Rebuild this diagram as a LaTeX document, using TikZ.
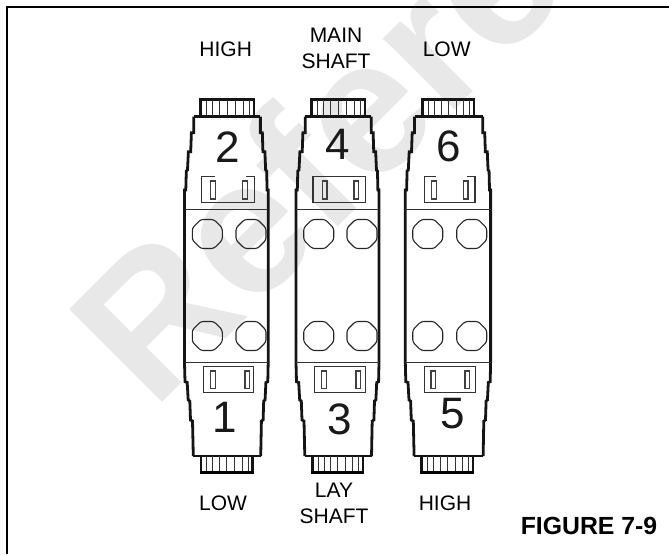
\documentclass[tikz,border=0pt]{standalone}
\usepackage{fontspec}
\setmainfont{Liberation Sans}
\begin{document}
\begin{tikzpicture}[x=1pt, y=-1pt, line join=miter,
    shell/.style={line width=2.8pt, draw=black!92},
    rib/.style={line width=1pt, draw=black!80},
    socket/.style={line width=1.2pt, draw=black!80},
    slot/.style={line width=1.2pt, draw=black!75},
    pin/.style={line width=1.1pt, draw=black!85, rounded corners=2.5pt},
    shaftlabel/.style={font=\fontsize{21}{26.5}\selectfont, align=center, inner sep=0pt},
    number/.style={font=\fontsize{44}{44}\selectfont, inner sep=0pt, text=black!90}]
  \useasboundingbox (0,0) rectangle (669,554);
  \begin{scope}
    \clip (0,0) rectangle (669,554);
    \node[font=\bfseries\fontsize{191}{191}\selectfont, text=black!9, rotate=45, anchor=base west, inner sep=0pt] (mark) at (153,412) {Reference};
  \end{scope}
  \draw[line width=2pt] (7,554) -- (7,7) -- (669,7);
  % stepped housing sides, both halves of each module
  \foreach \bl/\br in {184.5/268.2,296/379,405.3/490.6}
    \foreach \x/\f in {\bl/1,\br/-0.85} {
      \draw[shell, shift={(\x,0)}, xscale=\f] (9.2,116.7) -- (9.2,132.7) -- (6.9,132.7) -- (6.2,151.7) -- (3.9,151.7) -- (3,170) -- (1.8,171) -- (1.3,190) -- (0,190) -- (0,362.7) -- (0.5,381.7) -- (2.7,382.5) -- (3.7,400) -- (5.3,401) -- (6,420) -- (8,421) -- (8.8,456);
      \draw[rib] (\bl,209.5) -- (\br,209.5) (\bl,362) -- (\br,362);
    }
  \foreach \bl/\br in {184.5/268.2,296/379,405.3/490.6} {
    \draw[shell] ({\bl+9.2},116.7) -- ({\br-7.8},116.7);
    \draw[shell] ({\bl+8.8},456) -- ({\br-7.5},456);
  }
  % ribbed end caps
  \foreach \ya/\yb/\list in {99.5/116/{200.5/254,311.7/365,422.7/474},456/472/{201/252.3,312.7/363,421.7/473}}
    \foreach \ca/\cb in \list {
      \draw[shell] (\ca,\yb) -- (\ca,\ya) -- (\cb,\ya) -- (\cb,\yb);
      \foreach \r in {.11,.23,.36,.5,.65,.8,.92} \draw[rib] ({\ca+\r*(\cb-\ca)},\ya) -- ({\ca+\r*(\cb-\ca)},\yb);
    }
  \foreach \ca/\cb in {201/252.3,312.7/363,421.7/473} \draw[line width=3pt] (\ca-1.4,472) -- (\cb+1.4,472);
  % sockets with two pins
  \foreach \wa/\wb/\ga/\gb/\sa/\sb in {201.5/254.5/215/246/210.7/242.7,313/365.5/340/340/322.3/354,424.5/475/436/467.3/431.7/463.3} {
    \draw[socket] (\ga,176.5) -- (\wa,176.5) -- (\wa,202.2) -- (\wb,202.2) -- (\wb,176.5) -- (\gb,176.5);
    \draw[slot] (\sa,181) rectangle ++(4.6,18);
    \draw[slot] (\sb,181) rectangle ++(4.6,18);
  }
  \foreach \wa/\wb/\sa/\sb in {203.8/253.8/210.7/245,314.5/365.5/321.7/356,424.5/475.2/431/465} {
    \draw[socket] (\wa,366.5) rectangle (\wb,392.2);
    \draw[slot] (\sa,371) rectangle ++(4.6,17.3);
    \draw[slot] (\sb,371) rectangle ++(4.6,17.3);
  }
  \foreach \cx in {207.3,251,318.7,362,427.7,471.7}
    \foreach \cy in {234,336}
      \draw[pin] (\cx-6.5,\cy-14.5) -- (\cx+6.5,\cy-14.5) -- (\cx+15,\cy-6) -- (\cx+15,\cy+6) -- (\cx+6.5,\cy+14.5) -- (\cx-6.5,\cy+14.5) -- (\cx-15,\cy+6) -- (\cx-15,\cy-6) -- cycle;
  \node[number] (n1) at (224.3,417.3) {1};
  \node[number] (n2) at (228,146.7) {2};
  \node[number] (n3) at (339.3,419.3) {3};
  \node[number] (n4) at (337.3,144) {4};
  \node[number] (n5) at (452.3,413.3) {5};
  \node[number] (n6) at (449,146) {6};
  \node[shaftlabel] (high2) at (225.7,49) {HIGH};
  \node[shaftlabel] (main) at (336,48.5) {MAIN\\SHAFT};
  \node[shaftlabel] (low6) at (446.7,49.5) {LOW};
  \node[shaftlabel] (low1) at (223,503.5) {LOW};
  \node[shaftlabel] (lay) at (334,503.3) {LAY\\SHAFT};
  \node[shaftlabel] (high5) at (445,503.5) {HIGH};
  \node[font=\bfseries\fontsize{24.8}{24.8}\selectfont, inner sep=0pt] (figno) at (589,526) {FIGURE 7-9};
\end{tikzpicture}
\end{document}
